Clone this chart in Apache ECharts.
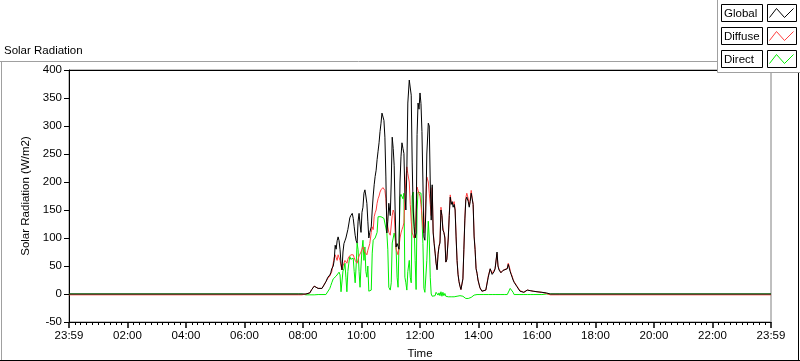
<!DOCTYPE html>
<html><head><meta charset="utf-8">
<script src="https://cdn.jsdelivr.net/npm/echarts@6/dist/echarts.min.js"></script>
<style>html,body{margin:0;padding:0;background:#fff}#c{width:800px;height:361px}</style>
</head><body><div id="c"></div>
<script>
// time of day in minutes since midnight
const timeMinutes = [
  0,470,474,478,482,486,490,494,498,503,
  505,507,511,515,519,523,527,531,535,537,
  539,542,544,546,548,550,552,554,556,558,
  560,562,564,566,568,570,572,574,576,578,
  581,583,585,587,589,591,593,595,597,599,
  601,603,605,607,609,611,613,615,617,620,
  622,624,626,628,630,632,634,636,638,640,
  642,644,646,648,650,652,654,656,659,661,
  663,665,667,669,671,673,675,677,679,681,
  683,685,687,689,691,693,695,698,700,702,
  704,706,708,710,712,714,716,718,720,722,
  724,726,728,730,732,734,737,739,741,743,
  745,747,749,751,753,755,757,759,761,763,
  765,767,769,771,773,775,778,780,782,784,
  786,788,790,792,794,796,798,800,802,804,
  806,808,810,812,814,816,819,821,823,825,
  827,829,831,833,835,837,839,843,847,851,
  855,860,864,868,872,874,878,880,882,886,
  890,894,899,901,903,905,907,909,911,913,
  919,925,933,940,946,952,960,970,979,987,
  997,1007,1440
];
const globalValues = [
  0,0,0,0,0,0,0,2,8,14,
  16,14,10,7,10,16,22,30,34,38,
  45,50,60,87,80,95,102,95,79,55,
  43,75,90,95,100,102,115,125,136,140,
  144,135,120,105,95,91,130,144,125,110,
  146,155,180,186,175,162,130,100,110,120,
  150,175,195,210,221,240,255,270,290,305,
  323,325,310,280,209,109,130,162,140,200,
  280,260,230,150,84,90,85,80,200,245,
  270,260,251,180,150,221,341,382,385,355,
  234,150,120,100,109,285,341,330,359,340,
  290,200,102,96,150,250,305,300,200,132,
  195,109,90,73,55,43,70,85,91,150,
  140,114,110,100,57,61,100,140,173,160,
  165,155,160,150,102,60,35,22,14,8,
  10,27,80,132,168,173,165,155,165,180,
  170,160,102,79,45,37,25,11,5,3,
  7,30,45,35,40,45,75,50,43,38,
  42,43,45,53,50,40,35,30,25,21,
  13,5,3,7,6,5,4,3,2,0,
  0,0,0
];
const diffuseValues = [
  -1.5,-1.5,-1.5,-1.5,-1.5,0,0,2,8,14,
  16,14,10,7,10,16,22,28,32,34,
  40,55,65,70,65,60,70,65,60,50,
  43,50,55,60,62,55,62,66,67,70,
  73,70,65,60,57,55,62,68,70,75,
  80,84,80,75,72,70,78,84,90,110,
  120,115,138,145,150,162,170,175,182,186,
  188,190,191,185,170,138,120,110,105,102,
  140,150,145,110,80,75,70,85,100,109,
  115,120,127,170,204,227,215,200,160,130,
  109,105,100,110,150,191,185,180,175,160,
  140,120,109,130,170,209,200,180,160,140,
  190,112,92,75,55,45,72,85,95,155,
  140,118,110,102,57,63,100,142,177,165,
  168,160,165,152,105,60,36,22,14,8,
  10,27,80,135,172,180,170,158,168,185,
  172,160,105,80,46,37,25,11,5,3,
  7,32,45,37,40,45,72,50,45,38,
  42,45,46,55,50,42,36,32,26,22,
  14,6,3,7,6,5,4,3,1,-1.5,
  -1.5,-1.5,-1.5
];
const directValues = [
  0,0,0,0,0,-1.5,-1.5,-1.5,-1.5,-1.5,
  -1,-1.5,-1,-1.5,-1,-1.5,-1,0,10,15,
  20,27,30,30,32,34,34,39,34,4,
  5,41,45,55,30,4,40,55,67,62,
  61,64,40,20,50,91,79,40,12,50,
  79,96,60,84,40,30,50,5,5,7,
  73,96,98,100,102,110,138,138,138,138,
  140,138,135,138,138,109,79,12,7,20,
  91,100,109,100,80,30,12,14,173,178,
  180,170,180,30,20,7,40,60,30,20,
  175,182,180,60,8,150,182,183,182,180,
  182,90,10,3,5,60,130,100,30,0,
  -4,-5,-5,-3,3,5,-2,2,-3,4,
  -4,3,-3,1,-4,-4,-5,-5,-5,-5,
  -5,-5,-5,-5,-4,-4,-3,-3,-3,-3,
  -3,-4,-6,-7,-8,-8,-8,-8,-7,-6,
  -4,-3,-2,-1,-1,-1,-1,-1,-1,-1,
  -1,-1,-1,-1,-1,-1,-1,-1,-1,-1,
  -1,-1,-1,-1,0,10,13,8,3,-1,
  -1,-1,-1,-1,-1,-1,-1,-1,0,0,
  0,0,0
];
const timeTickLabels = ['23:59','02:00','04:00','06:00','08:00','10:00','12:00','14:00','16:00','18:00','20:00','22:00','23:59'];
const seriesNames = ['Global','Diffuse','Direct'];
const seriesColors = ['#000000','#ff4040','#00ee00'];

const FONT = 'Liberation Sans';
function pairs(vals){ return timeMinutes.map((t,i)=>[t, vals[i]]); }
const seriesData = [globalValues, diffuseValues, directValues];

const chart = echarts.init(document.getElementById('c'), null, {renderer:'canvas'});

// legend boxes (drawn as graphics)
const legendGraphics = [
  {type:'rect', shape:{x:717.5, y:-2, width:90, height:74.5}, style:{fill:'#fff', stroke:'#a0a0a0', lineWidth:1}, z:100}
];
seriesNames.forEach((name, i) => {
  const y0 = 3.5 + i * 23.3;
  legendGraphics.push({type:'rect', shape:{x:721.5, y:Math.round(y0)+0.5, width:41, height:17}, style:{fill:'#fff', stroke:'#000', lineWidth:1}, z:101});
  legendGraphics.push({type:'text', x:724, y:Math.round(y0)+9.5, style:{text:name, fill:'#000', font:'11.5px "'+FONT+'"', textVerticalAlign:'middle'}, z:102});
  legendGraphics.push({type:'rect', shape:{x:767.5, y:Math.round(y0)+0.5, width:29, height:17}, style:{fill:'#fff', stroke:'#000', lineWidth:1}, z:101});
  const bx = 767.5, by = Math.round(y0)+0.5;
  legendGraphics.push({type:'polyline', shape:{points:[[bx+2,by+13],[bx+9,by+4],[bx+17,by+13],[bx+26,by+4]]}, style:{stroke:seriesColors[i], lineWidth:1, fill:null}, z:102});
});

const option = {
  animation:false,
  backgroundColor:'#fff',
  title:{text:'Solar Radiation', left:4, top:45, padding:0, textStyle:{fontFamily:FONT, fontSize:11.5, fontWeight:'normal', color:'#000'}},
  grid:{left:69, right:29, top:70, bottom:39, show:true, borderColor:'#808080', borderWidth:1, backgroundColor:'#fff', containLabel:false, outerBoundsMode:'none'},
  xAxis:[{
    type:'value', min:0, max:1440, interval:120, position:'bottom',
    name:'Time', nameLocation:'middle', nameGap:26,
    nameTextStyle:{fontFamily:FONT, fontSize:11.5, color:'#000'},
    axisLine:{show:true, onZero:false, lineStyle:{color:'#000', width:1}},
    axisTick:{show:true, length:6, lineStyle:{color:'#000', width:1.5}},
    minorTick:{show:true, splitNumber:10, length:3, lineStyle:{color:'#000', width:1}},
    splitLine:{show:false},
    axisLabel:{color:'#000', fontFamily:FONT, fontSize:11.5, margin:8,
      formatter:(v)=>timeTickLabels[Math.round(v/120)]}
  },{
    type:'value', min:0, max:1440, position:'top',
    axisLine:{show:true, onZero:false, lineStyle:{color:'#000', width:1}},
    axisTick:{show:false}, axisLabel:{show:false}, splitLine:{show:false}
  }],
  yAxis:{
    type:'value', min:-50, max:400, interval:50,
    name:'Solar Radiation (W/m2)', nameLocation:'middle', nameGap:30,
    nameTextStyle:{fontFamily:FONT, fontSize:11.5, color:'#000'},
    axisLine:{show:true, onZero:false, lineStyle:{color:'#000', width:1}},
    axisTick:{show:true, length:5, lineStyle:{color:'#000'}},
    splitLine:{show:false},
    axisLabel:{color:'#000', fontFamily:FONT, fontSize:11.5, margin:7}
  },
  series:[2,1,0].map(i => ({
    name:seriesNames[i], type:'line', data:pairs(seriesData[i]),
    showSymbol:false, symbol:'none', smooth:false,
    lineStyle:{color:seriesColors[i], width:1},
    itemStyle:{color:seriesColors[i]},
    z:2+(2-i)
  })),
  graphic:[
    {type:'line', shape:{x1:0, y1:61.5, x2:717, y2:61.5}, style:{stroke:'#a0a0a0', lineWidth:1}, z:50},
    {type:'line', shape:{x1:1.5, y1:61, x2:1.5, y2:361}, style:{stroke:'#a0a0a0', lineWidth:1}, z:50},
    {type:'line', shape:{x1:0, y1:360.5, x2:800, y2:360.5}, style:{stroke:'#000', lineWidth:1}, z:50},
    {type:'line', shape:{x1:798.5, y1:72, x2:798.5, y2:361}, style:{stroke:'#000', lineWidth:1}, z:50}
  ].concat(legendGraphics)
};
chart.setOption(option);
</script>
</body></html>
